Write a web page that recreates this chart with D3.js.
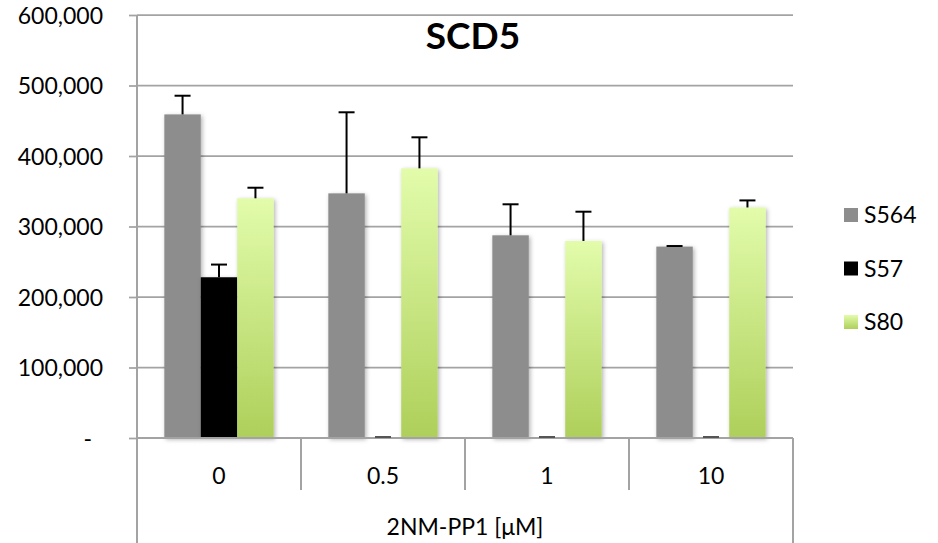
<!DOCTYPE html>
<html>
<head>
<meta charset="utf-8">
<script src="https://cdn.jsdelivr.net/npm/d3@7"></script>
<style>
  html, body { margin: 0; padding: 0; background: #fff; }
  svg { display: block; }
  text { font-family: Lato, "Open Sans", "Liberation Sans", sans-serif; fill: #000; }
</style>
</head>
<body>
<svg id="chart" width="938" height="543"></svg>
<script>
// ---- data ----
const categories = ["0", "0.5", "1", "10"];
const seriesNames = ["S564", "S57", "S80"];
const s564 = [459000, 347000, 287500, 271500];
const s564Err = [26500, 115000, 44000, 800];
const s57 = [228000, 0, 0, 0];
const s57Err = [18000, 0, 0, 0];
const s80 = [340000, 382500, 279500, 327000];
const s80Err = [15000, 44000, 41500, 10000];
const yTicks = [0, 100000, 200000, 300000, 400000, 500000, 600000];
const titleText = "SCD5";
const xTitle = "2NM-PP1 [μM]";

(function () {
const seriesValues = { S564: s564, S57: s57, S80: s80 };
const seriesErrors = { S564: s564Err, S57: s57Err, S80: s80Err };

// ---- layout ----
const svg = d3.select("#chart");
const pLeft = 137, pRight = 793, pTop = 15, base = 438;
const gridColor = "#a3a3a3";
const fs = "23px";

const y = d3.scaleLinear().domain([0, 600000]).range([base, pTop]);
const x = d3.scaleBand().domain(categories).range([pLeft, pRight]).paddingInner(0).paddingOuter(0);
const xs = d3.scaleBand().domain(seriesNames).range([0, x.bandwidth()]).paddingInner(0).paddingOuter(0.75);

const defs = svg.append("defs");
const grad = defs.append("linearGradient").attr("id", "greenGrad")
  .attr("x1", 0).attr("y1", 0).attr("x2", 0).attr("y2", 1);
grad.append("stop").attr("offset", "0%").attr("stop-color", "#e2fcab");
grad.append("stop").attr("offset", "100%").attr("stop-color", "#aecf5a");
const shadow = defs.append("filter").attr("id", "shadow")
  .attr("x", "-20%").attr("y", "-5%").attr("width", "150%").attr("height", "115%");
shadow.append("feDropShadow").attr("dx", 1.5).attr("dy", 1.5).attr("stdDeviation", 2)
  .attr("flood-color", "#000").attr("flood-opacity", 0.3);

const fills = { S564: "#8d8d8d", S57: "#000000", S80: "url(#greenGrad)" };

// gridlines
svg.append("g").selectAll("line").data(yTicks).join("line")
  .attr("x1", pLeft).attr("x2", pRight)
  .attr("y1", d => y(d)).attr("y2", d => y(d))
  .attr("stroke", gridColor).attr("stroke-width", 1.75);

// y axis
const yAxis = svg.append("g").attr("transform", `translate(${pLeft},0)`)
  .call(d3.axisLeft(y).tickValues(yTicks).tickSize(8).tickPadding(26)
    .tickFormat(d => d === 0 ? "-" : d3.format(",")(d)));
yAxis.select(".domain").attr("stroke", gridColor).attr("stroke-width", 2)
  .attr("d", `M0,${pTop}V${base}`);
yAxis.selectAll(".tick line").attr("stroke", gridColor).attr("stroke-width", 1.75);
yAxis.selectAll(".tick text").style("font-size", fs).style("font-family", "Lato, 'Open Sans', sans-serif")
  .attr("fill", "#000").attr("dy", "0.36em")
  .attr("dx", d => d === 0 ? -11 : 0);

// bars
const barG = svg.append("g");
seriesNames.forEach(s => {
  barG.append("g").selectAll("rect").data(categories).join("rect")
    .attr("x", c => x(c) + xs(s))
    .attr("width", xs.bandwidth())
    .attr("y", (c, i) => y(seriesValues[s][i]))
    .attr("height", (c, i) => base - y(seriesValues[s][i]))
    .attr("fill", fills[s])
    .attr("filter", (c, i) => seriesValues[s][i] > 0 ? "url(#shadow)" : null);
});

// baseline drawn over bars' shadows
svg.append("line").attr("x1", pLeft).attr("x2", pRight).attr("y1", base).attr("y2", base)
  .attr("stroke", gridColor).attr("stroke-width", 2);

// error bars (upper only)
const capW = 16;
seriesNames.forEach(s => {
  const g = svg.append("g").attr("stroke", "#000").attr("stroke-width", 2);
  categories.forEach((c, i) => {
    const cx = x(c) + xs(s) + xs.bandwidth() / 2;
    const v = seriesValues[s][i], e = seriesErrors[s][i];
    const y0 = y(v), y1 = y(v + e);
    const adj = v === 0 ? -1 : 0;
    if (y0 - y1 > 0.5) g.append("line").attr("x1", cx).attr("x2", cx).attr("y1", y0).attr("y2", y1);
    g.append("line").attr("x1", cx - capW / 2).attr("x2", cx + capW / 2)
      .attr("y1", y1 + adj).attr("y2", y1 + adj)
      .attr("stroke", v === 0 ? "#555" : "#000");
  });
});

// category axis box
const catG = svg.append("g").attr("stroke", gridColor).attr("stroke-width", 2);
catG.append("line").attr("x1", pLeft).attr("x2", pLeft).attr("y1", base).attr("y2", 543);
catG.append("line").attr("x1", pRight).attr("x2", pRight).attr("y1", base).attr("y2", 543);
categories.slice(1).forEach(c => {
  catG.append("line").attr("x1", x(c)).attr("x2", x(c)).attr("y1", base).attr("y2", 490);
});

svg.append("g").selectAll("text").data(categories).join("text")
  .attr("x", c => x(c) + x.bandwidth() / 2).attr("y", 484)
  .attr("text-anchor", "middle").style("font-size", fs).text(d => d);

svg.append("text").attr("x", (pLeft + pRight) / 2).attr("y", 535)
  .attr("text-anchor", "middle").style("font-size", fs).text(xTitle);

// title
svg.append("text").attr("x", 473).attr("y", 49).attr("text-anchor", "middle")
  .style("font-size", "37px").style("font-weight", "bold").text(titleText);

// legend
const legY = d3.scalePoint().domain(seriesNames).range([215, 322]);
const leg = svg.append("g");
seriesNames.forEach(s => {
  leg.append("rect").attr("x", 844).attr("y", legY(s) - 7).attr("width", 14).attr("height", 14)
    .attr("fill", fills[s]);
  leg.append("text").attr("x", 864).attr("y", legY(s) + 8).style("font-size", fs).text(s);
});
})();
</script>
</body>
</html>
